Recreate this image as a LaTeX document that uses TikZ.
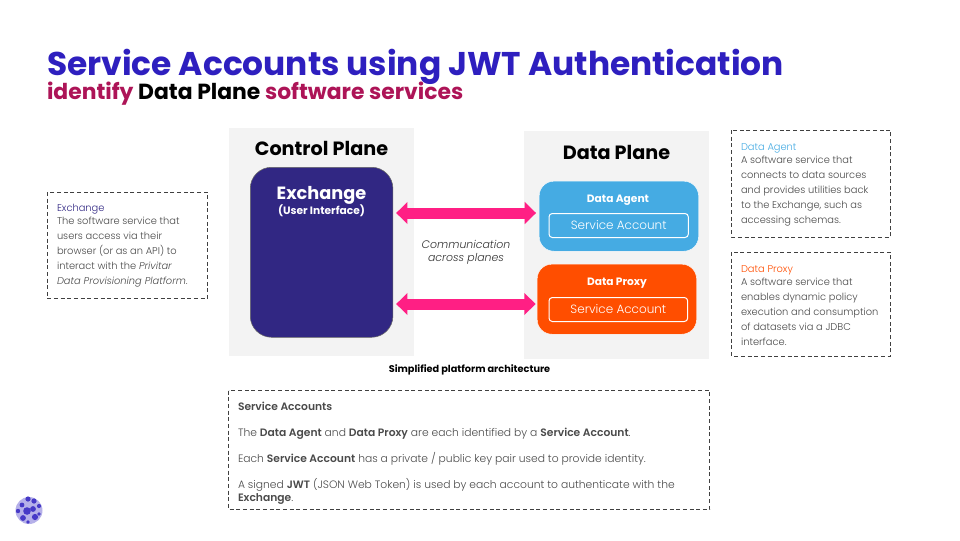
\documentclass[tikz,border=0pt]{standalone}
\usepackage{fontspec}
\setmainfont{Poppins}
\newfontfamily\lightf{Poppins Light}[ItalicFont={Poppins Light Italic},BoldFont={Poppins SemiBold},BoldItalicFont={Poppins SemiBold Italic}]
\usetikzlibrary{arrows.meta}
\definecolor{titleblue}{HTML}{2E1FBF}
\definecolor{magentar}{HTML}{AD1457}
\definecolor{planegrey}{HTML}{F3F3F3}
\definecolor{exch}{HTML}{312783}
\definecolor{agent}{HTML}{45ABE3}
\definecolor{proxy}{HTML}{FF4E00}
\definecolor{pinkarrow}{HTML}{FF1F84}
\definecolor{bodygrey}{HTML}{4A4A4A}
\tikzset{
 x=0.75pt,y=-0.75pt,
 plane/.style={fill=planegrey,draw=none},
 dashbox/.style={draw=black!75,line width=0.6pt,dash pattern=on 3pt off 2pt},
 comm/.style={draw=pinkarrow,line width=8.25pt,{Triangle[length=8.5pt,width=16pt,fill=pinkarrow]}-{Triangle[length=8.5pt,width=16pt,fill=pinkarrow]},shorten <=0pt,shorten >=0pt},
 lbl/.style={inner sep=0pt,outer sep=0pt,anchor=center},
 body/.style={inner sep=0pt,outer sep=0pt,anchor=base west,text=bodygrey,font=\lightf\fontsize{7.4}{9}\selectfont},
 bodyb/.style={inner sep=0pt,outer sep=0pt,anchor=base west,text=bodygrey,font=\lightf\fontsize{8.05}{9}\selectfont},
 sabox/.style={draw=white,line width=0.75pt,rounded corners=2.5pt,text=white,font=\lightf\fontsize{9}{10}\selectfont,inner sep=0pt,anchor=north west},
}
\begin{document}
\begin{tikzpicture}
\useasboundingbox (0,0) rectangle (960,540);
\fill[white] (0,0) rectangle (960,540);
% title
\node[lbl,anchor=base west,text=titleblue,font=\fontsize{24.65}{28}\selectfont\bfseries] (title) at (47,75) {Service Accounts using JWT Authentication};
\node[lbl,anchor=base west,font=\fontsize{16.4}{18}\selectfont\bfseries] (subtitle) at (47,99) {\textcolor{magentar}{identify} Data Plane \textcolor{magentar}{software services}};
% planes
\fill[plane] (229,128) rectangle (414,356);
\fill[plane] (524,131) rectangle (709,359);
\node[lbl,font=\fontsize{14.4}{16}\selectfont\bfseries] (cpl) at (321.5,148.5) {Control Plane};
\node[lbl,font=\fontsize{14.4}{16}\selectfont\bfseries] (dpl) at (616.5,152) {Data Plane};
% exchange
\node[draw=black!60,line width=0.4pt,fill=exch,rounded corners=16pt,minimum width=107pt,minimum height=127.5pt,inner sep=0pt,anchor=north west] (exchange) at (250,167) {};
\node[lbl,text=white,font=\fontsize{13.3}{15}\selectfont\bfseries] (exl) at (321.5,195) {Exchange};
\node[lbl,text=white,font=\fontsize{8}{9}\selectfont\bfseries] (exs) at (321.5,211) {(User Interface)};
% agent
\node[draw=white,line width=0.3pt,fill=agent,rounded corners=11pt,minimum width=119.5pt,minimum height=52.5pt,inner sep=0pt,anchor=north west] (agentbox) at (539,181) {};
\node[lbl,text=white,font=\fontsize{8}{10}\selectfont\bfseries] (agl) at (618,200.5) {Data Agent};
\node[sabox,minimum width=104.5pt,minimum height=18pt] (sa1) at (548.5,213) {\raisebox{-0.7pt}{Service Account}};
% proxy
\node[draw=white,line width=0.3pt,fill=proxy,rounded corners=11pt,minimum width=119.5pt,minimum height=52.5pt,inner sep=0pt,anchor=north west] (proxybox) at (537,264) {};
\node[lbl,text=white,font=\fontsize{8}{10}\selectfont\bfseries] (prl) at (617,283.5) {Data Proxy};
\node[sabox,minimum width=104pt,minimum height=18pt] (sa2) at (548.5,297) {\raisebox{-0.7pt}{Service Account}};
% connectors
\coordinate (e1) at (exchange.east |- 0,213);
\coordinate (e2) at (exchange.east |- 0,304);
\coordinate (a1) at (agentbox.west |- 0,213);
\coordinate (p1) at (proxybox.west |- 0,304);
\draw[comm] ([xshift=2.2pt]e1) -- ([xshift=-2.2pt]a1);
\draw[comm] ([xshift=2.2pt]e2) -- ([xshift=-1pt]p1);
\node[lbl,text=black!80,font=\lightf\fontsize{8.2}{10}\selectfont\itshape,align=center] (comml) at (466,252.5) {Communication\\across planes};
\node[lbl,font=\fontsize{7.3}{9}\selectfont\bfseries,text=black] (cap) at (469.5,369.5) {Simplified platform architecture};
% left box
\draw[dashbox] (47,192) rectangle (207.5,298.5);
\node[body,text=exch] (tl) at (57,211) {Exchange};
\node[body] (t1) at (57,224) {The software service that};
\node[body] (t2) at (57,239) {users access via their};
\node[body] (t3) at (57,254) {browser (or as an API) to};
\node[body] (t4) at (57,269) {interact with the \textit{Privitar}};
\node[body] (t5) at (57,284) {\textit{Data Provisioning Platform}.};
% right box 1
\draw[dashbox] (731.5,130) rectangle (890.5,237);
\node[body,text=agent] (al) at (741,150) {Data Agent};
\node[body] (a1t) at (741,163) {A software service that};
\node[body] (a2t) at (741,178) {connects to data sources};
\node[body] (a3t) at (741,193) {and provides utilities back};
\node[body] (a4t) at (741,208) {to the Exchange, such as};
\node[body] (a5t) at (741,223) {accessing schemas.};
% right box 2
\draw[dashbox] (731.5,252) rectangle (890.5,356);
\node[body,text=proxy] (pl) at (741,272) {Data Proxy};
\node[body] (p1t) at (741,285) {A software service that};
\node[body] (p2t) at (741,300) {enables dynamic policy};
\node[body] (p3t) at (741,315) {execution and consumption};
\node[body] (p4t) at (741,330) {of datasets via a JDBC};
\node[body] (p5t) at (741,345) {interface.};
% bottom box
\draw[dashbox] (228.5,390.5) rectangle (709.5,509.5);
\node[bodyb] (s0) at (238,410) {\textbf{Service Accounts}};
\node[bodyb] (s1) at (238,436) {The \textbf{Data Agent} and \textbf{Data Proxy} are each identified by a \textbf{Service Account}.};
\node[bodyb] (s2) at (238,462) {Each \textbf{Service Account} has a private / public key pair used to provide identity.};
\node[bodyb] (s3) at (238,488) {A signed \textbf{JWT} (JSON Web Token) is used by each account to authenticate with the};
\node[bodyb] (s4) at (238,501) {\textbf{Exchange}.};
% logo
\fill[titleblue!35] (29,510.5) circle (13.5);
\foreach \px/\py/\r in {27/511/3.8,28/499/2.6,34/501/2.6,22/505/2.4,33/509/2.9,39/506/2.1,18/511/2.2,23/518/2.9,35/517/3.1,28/522/1.9,39/514/1.9}{
 \fill[titleblue!88] (\px,\py) circle (\r);
}
\end{tikzpicture}
\end{document}
